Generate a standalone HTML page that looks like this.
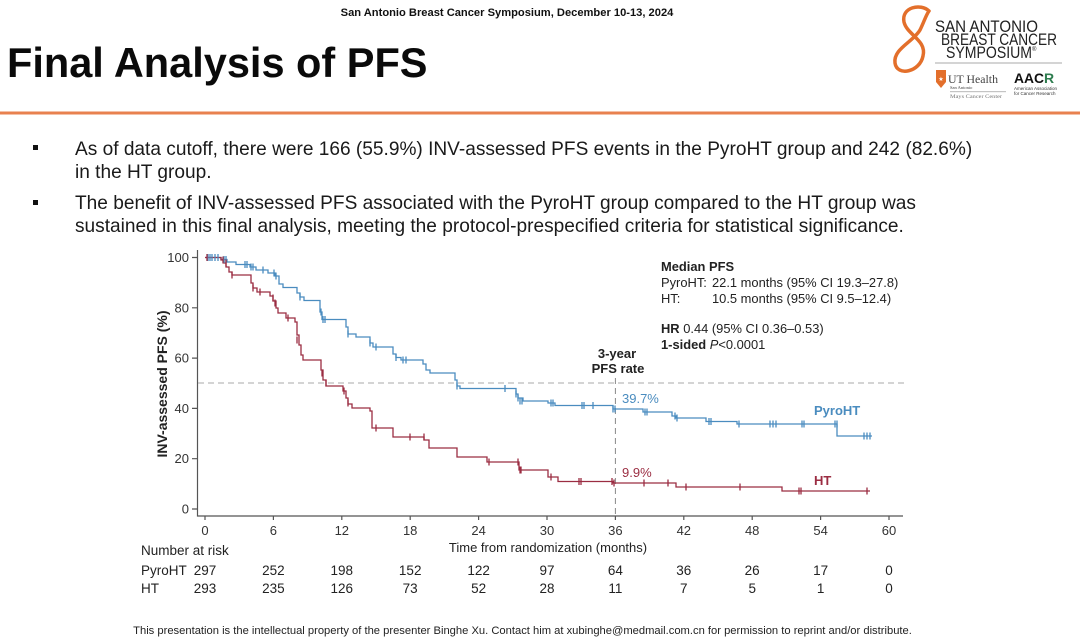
<!DOCTYPE html>
<html><head><meta charset="utf-8"><style>
html,body{margin:0;padding:0;background:#fff;}
body{width:1080px;height:637px;overflow:hidden;position:relative;}
svg{position:absolute;left:0;top:0;}
</style></head><body>
<svg width="1080" height="637" viewBox="0 0 1080 637" xmlns="http://www.w3.org/2000/svg" font-family="'Liberation Sans', Arial, sans-serif">
<!-- header -->
<text x="507" y="16" font-size="11.15" font-weight="bold" text-anchor="middle" fill="#111">San Antonio Breast Cancer Symposium, December 10-13, 2024</text>
<text x="7" y="77" font-size="41.5" font-weight="bold" fill="#0a0a0a">Final Analysis of PFS</text>
<rect x="0" y="111.5" width="1080" height="3" fill="#e8814f"/>

<!-- logo -->
<path d="M929 11 C921 3, 901 7, 904 22 C907 35, 927 40, 923 56 C920 72, 897 77, 895 63 C893 49, 913 42, 920 30 C924 22, 926 15, 929 11" stroke="#e36f2b" stroke-width="3.5" fill="none" stroke-linecap="round"/>
<text x="935" y="32" font-size="16.5" fill="#222" textLength="103" lengthAdjust="spacingAndGlyphs">SAN ANTONIO</text>
<text x="941" y="45" font-size="16.5" fill="#222" textLength="116" lengthAdjust="spacingAndGlyphs">BREAST CANCER</text>
<text x="946" y="58" font-size="16.5" fill="#222" textLength="86" lengthAdjust="spacingAndGlyphs">SYMPOSIUM</text>
<text x="1032" y="51" font-size="6" fill="#222">®</text>
<rect x="935" y="62.5" width="127" height="1" fill="#aaa"/>
<path d="M936 70 L946 70 L946 82 L941 88 L936 82 Z" fill="#e36f2b"/>
<text x="941" y="81" font-size="6" fill="#fff" text-anchor="middle">★</text>
<text x="948" y="83" font-size="12" fill="#444" font-family="'Liberation Serif', serif" textLength="50" lengthAdjust="spacingAndGlyphs">UT Health</text>
<text x="950" y="89" font-size="4.5" fill="#444" font-family="'Liberation Serif', serif">San Antonio</text>
<rect x="950" y="91.5" width="56" height="0.6" fill="#888"/>
<text x="950" y="98" font-size="5.5" fill="#777" font-family="'Liberation Serif', serif" textLength="52" lengthAdjust="spacingAndGlyphs">Mays Cancer Center</text>
<text x="1014" y="83" font-size="14" font-weight="bold" fill="#111" textLength="30" lengthAdjust="spacingAndGlyphs">AAC</text>
<text x="1044" y="83" font-size="14" font-weight="bold" fill="#2e7d4f">R</text>
<text x="1014" y="90" font-size="4.5" fill="#333">American Association</text>
<text x="1014" y="95" font-size="4.5" fill="#333">for Cancer Research</text>

<!-- bullets -->
<rect x="33" y="145" width="5" height="5" fill="#111"/>
<rect x="33" y="200" width="5" height="5" fill="#111"/>
<g font-size="19.1" fill="#1a1a1a">
<text x="75" y="155">As of data cutoff, there were 166 (55.9%) INV-assessed PFS events in the PyroHT group and 242 (82.6%)</text>
<text x="75" y="178">in the HT group.</text>
<text x="75" y="209">The benefit of INV-assessed PFS associated with the PyroHT group compared to the HT group was</text>
<text x="75" y="232">sustained in this final analysis, meeting the protocol-prespecified criteria for statistical significance.</text>
</g>

<!-- chart axes -->
<g stroke="#555" stroke-width="1.2" fill="none">
<path d="M197.5 250 V516 H903"/>
<path d="M192 509 H197.5 M192 458.7 H197.5 M192 408.4 H197.5 M192 358.1 H197.5 M192 307.8 H197.5 M192 257.5 H197.5"/>
<path d="M205 516 V520 M273.4 516 V520 M341.8 516 V520 M410.2 516 V520 M478.6 516 V520 M547 516 V520 M615.4 516 V520 M683.8 516 V520 M752.2 516 V520 M820.6 516 V520 M889 516 V520"/>
</g>
<g font-size="13" fill="#333" text-anchor="end">
<text x="189" y="513.5">0</text>
<text x="189" y="463.2">20</text>
<text x="189" y="412.9">40</text>
<text x="189" y="362.6">60</text>
<text x="189" y="312.3">80</text>
<text x="189" y="262">100</text>
</g>
<g font-size="13" fill="#333" text-anchor="middle">
<text x="205" y="535">0</text>
<text x="273.4" y="535">6</text>
<text x="341.8" y="535">12</text>
<text x="410.2" y="535">18</text>
<text x="478.6" y="535">24</text>
<text x="547" y="535">30</text>
<text x="615.4" y="535">36</text>
<text x="683.8" y="535">42</text>
<text x="752.2" y="535">48</text>
<text x="820.6" y="535">54</text>
<text x="889" y="535">60</text>
</g>
<text x="548" y="552" font-size="13" fill="#222" text-anchor="middle">Time from randomization (months)</text>
<text transform="translate(167,384) rotate(-90)" font-size="14" font-weight="bold" fill="#222" text-anchor="middle">INV-assessed PFS (%)</text>

<!-- dashed refs -->
<path d="M198 383 H905" stroke="#aaa" stroke-width="1" stroke-dasharray="6,4" fill="none"/>
<path d="M615.4 378 V516" stroke="#888" stroke-width="1" stroke-dasharray="6,4" fill="none"/>

<!-- curves -->
<path fill="none" stroke="#4a8cbf" stroke-width="1.3" d="M205 257.5 H221 V259.5 H227 V262 H236 V264.5 H250 V267 H256 V270 H268 V273 H275 V276 H279 V284 H283 V287.5 H297 V293 H300 V297 H304 V300.5 H320 V312 H322 V319.5 H346 V327 H348 V334 H356 V337 H370 V343 H373 V347 H393 V354 H396 V357.5 H401 V360 H423 V364 H426 V370 H430 V373 H455 V380 H457 V386 H460 V388.5 H516 V394 H518 V398 H523 V401 H548 V403 H555 V405.5 H613 V409 H643 V412 H672 V416 H676 V418 H706 V421.5 H737 V424 H837 V436 H872"/>
<path fill="none" stroke="#9b2d42" stroke-width="1.3" d="M205 257.5 H221 V260 H224 V263 H226 V267 H229 V272 H232 V275 H251 V283 H253 V288 H257 V292 H270 V296 H273 V301 H276 V308 H278 V313 H286 V318 H295 V322 H297 V335 H299 V345 H301 V355 H303 V360 H321 V370 H323 V380 H326 V386 H343 V391 H346 V398 H348 V404 H352 V408 H370 V411 H372 V428 H393 V437 H424 V440 H429 V448 H457 V457 H487 V462 H519 V470 H548 V477 H558 V481.5 H613 V483 H676 V487 H782 V491 H870"/>

<g stroke="#4a8cbf" stroke-width="1.3" fill="none">
<path d="M208 254v7M210 254v7M212 254v7M215 254v7M218 254v7M224 256v7M226 256v7M245 261v7M247 261v7M251 263.5v7M253 263.5v7M263 266.5v7M274 269.5v7M276 272.5v7M300 293.5v7M321 308.5v7M323 316v7M325 316v7M348 330.5v7M370 339.5v7M376 343.5v7M396 354v7M403 356.5v7M406 356.5v7M457 382.5v7M505 385v7M516 390.5v7M518 394.5v7M520 397.5v7M522 397.5v7M551 399.5v7M553 399.5v7M582 402v7M584 402v7M593 402v7M613 405.5v7M615 405.5v7M645 408.5v7M647 408.5v7M675 412.5v7M677 414.5v7M709 418v7M711 418v7M739 420.5v7M770 420.5v7M773 420.5v7M776 420.5v7M802 420.5v7M804 420.5v7M835 420.5v7M837 420.5v7M864 432.5v7M867 432.5v7M870 432.5v7"/>
</g>
<g stroke="#9b2d42" stroke-width="1.3" fill="none">
<path d="M207 254v7M223 256.5v7M226 259.5v7M232 271.5v7M253 284.5v7M260 288.5v7M273 294.5v7M275 299.5v7M288 314.5v7M297 336.5v7M322 369.5v7M326 379.5v7M344 387.5v7M348 399.5v7M376 424.5v7M410 433.5v7M424 433.5v7M489 458.5v7M518 458.5v7M520 466.5v7M521 466.5v7M551 473.5v7M579 478v7M581 478v7M612 478v7M614 479.5v7M644 479.5v7M668 479.5v7M686 483.5v7M740 483.5v7M799 487.5v7M801 487.5v7M867 487.5v7"/>
</g>

<!-- annotations -->
<text x="617" y="358" font-size="13" font-weight="bold" fill="#222" text-anchor="middle">3-year</text>
<text x="618" y="373" font-size="13" font-weight="bold" fill="#222" text-anchor="middle">PFS rate</text>
<text x="622" y="403" font-size="13" fill="#4a8cbf">39.7%</text>
<text x="622" y="477" font-size="13" fill="#9b2d42">9.9%</text>
<text x="814" y="415" font-size="13" font-weight="bold" fill="#4a8cbf">PyroHT</text>
<text x="814" y="485" font-size="13" font-weight="bold" fill="#9b2d42">HT</text>

<g font-size="12.9" fill="#222">
<text x="661" y="271" font-weight="bold">Median PFS</text>
<text x="661" y="287">PyroHT:</text>
<text x="712" y="287">22.1 months (95% CI 19.3–27.8)</text>
<text x="661" y="303">HT:</text>
<text x="712" y="303">10.5 months (95% CI 9.5–12.4)</text>
<text x="661" y="333"><tspan font-weight="bold">HR</tspan> 0.44 (95% CI 0.36–0.53)</text>
<text x="661" y="349"><tspan font-weight="bold">1-sided </tspan><tspan font-style="italic">P</tspan>&lt;0.0001</text>
</g>

<!-- number at risk -->
<g font-size="13.5" fill="#222">
<text x="141" y="555">Number at risk</text>
<text x="141" y="575">PyroHT</text>
<text x="141" y="593">HT</text>
</g>
<g font-size="13.5" fill="#222" text-anchor="middle">
<text x="205" y="575">297</text>
<text x="273.4" y="575">252</text>
<text x="341.8" y="575">198</text>
<text x="410.2" y="575">152</text>
<text x="478.6" y="575">122</text>
<text x="547" y="575">97</text>
<text x="615.4" y="575">64</text>
<text x="683.8" y="575">36</text>
<text x="752.2" y="575">26</text>
<text x="820.6" y="575">17</text>
<text x="889" y="575">0</text>
<text x="205" y="593">293</text>
<text x="273.4" y="593">235</text>
<text x="341.8" y="593">126</text>
<text x="410.2" y="593">73</text>
<text x="478.6" y="593">52</text>
<text x="547" y="593">28</text>
<text x="615.4" y="593">11</text>
<text x="683.8" y="593">7</text>
<text x="752.2" y="593">5</text>
<text x="820.6" y="593">1</text>
<text x="889" y="593">0</text>
</g>

<!-- footer -->
<text x="522.5" y="634" font-size="11.2" fill="#222" text-anchor="middle">This presentation is the intellectual property of the presenter Binghe Xu. Contact him at xubinghe@medmail.com.cn for permission to reprint and/or distribute.</text>
</svg>
</body></html>
